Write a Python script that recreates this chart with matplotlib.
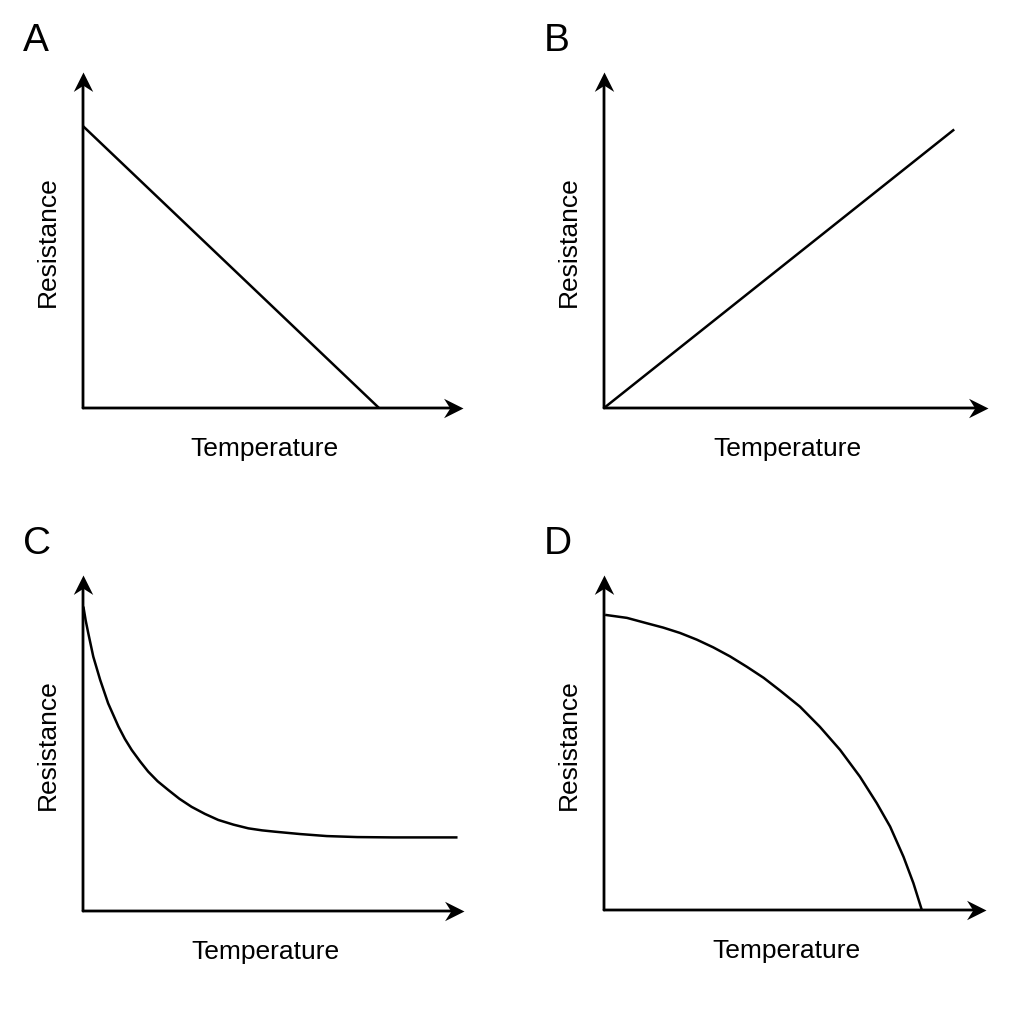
import matplotlib.pyplot as plt
from matplotlib.path import Path
import numpy as np

plt.rcParams['font.family'] = ['Liberation Sans', 'DejaVu Sans']

# values, axis units 0-10 from origin to arrow tip
a_x = [0, 7.79]
a_y = [8.39, 0]

b_x = [0, 9.12]
b_y = [0, 8.29]

c_x = [0.01, 0.07, 0.14, 0.27, 0.45, 0.66, 0.93, 1.10, 1.28, 1.50, 1.71, 1.96, 2.24, 2.53, 2.85, 3.20, 3.55, 3.95, 4.34, 4.70, 5.04, 5.70, 6.40, 7.20, 8.14, 9.83]
c_y = [9.06, 8.65, 8.26, 7.57, 6.88, 6.18, 5.49, 5.12, 4.79, 4.45, 4.15, 3.86, 3.60, 3.34, 3.10, 2.89, 2.71, 2.57, 2.46, 2.40, 2.36, 2.29, 2.23, 2.20, 2.19, 2.19]

d_x = [0.03, 0.60, 1.12, 1.55, 1.99, 2.43, 2.86, 3.30, 3.74, 4.18, 4.61, 5.13, 5.65, 6.18, 6.70, 7.14, 7.49, 7.84, 8.10, 8.32]
d_y = [8.81, 8.72, 8.56, 8.43, 8.27, 8.07, 7.84, 7.57, 7.26, 6.93, 6.55, 6.07, 5.47, 4.78, 3.98, 3.19, 2.49, 1.59, 0.80, 0.00]

panels = ['A', 'B', 'C', 'D']
xs = [a_x, b_x, c_x, d_x]
ys = [a_y, b_y, c_y, d_y]
xlabel = 'Temperature'
ylabel = 'Resistance'

W = 1024.0
# left, bottom, width, height in pixels (origin to arrow tips)
boxes = [(83, 616, 380, 336), (604, 616, 384, 336),
         (83, 113, 381, 336), (604, 114, 382, 335)]

# dart shaped arrow heads, tip at the marker origin
codes = [Path.MOVETO, Path.LINETO, Path.LINETO, Path.LINETO, Path.CLOSEPOLY]
head_r = Path([(0, 0), (-1, 0.5), (-0.68, 0), (-1, -0.5), (0, 0)], codes)
head_u = Path([(0, 0), (-0.5, -1), (0, -0.68), (0.5, -1), (0, 0)], codes)

fig = plt.figure(figsize=(10.24, 10.24), dpi=100)
fig.patch.set_facecolor('white')

for i in range(4):
    l, b, w, h = boxes[i]
    ax = fig.add_axes([l / W, b / W, w / W, h / W])
    ax.set_xlim(0, 10)
    ax.set_ylim(0, 10)
    ax.axis('off')
    arr = dict(arrowstyle='-', color='black', lw=2.0, shrinkA=0, shrinkB=8)
    ax.annotate('', xy=(10, 0), xytext=(0, 0), arrowprops=arr, annotation_clip=False)
    ax.annotate('', xy=(0, 10), xytext=(0, 0), arrowprops=arr, annotation_clip=False)
    ax.plot([10], [0], marker=head_r, ms=28, color='black', mew=0, clip_on=False)
    ax.plot([0], [10], marker=head_u, ms=28, color='black', mew=0, clip_on=False)
    ax.plot(xs[i], ys[i], color='black', lw=1.8, clip_on=False, solid_capstyle='butt',
            solid_joinstyle='round')
    ax.text(0.478, -48.0 / h, xlabel, transform=ax.transAxes, ha='center', va='baseline',
            fontsize=19)
    ax.text(-35.0 / w, 0.494, ylabel, transform=ax.transAxes, ha='center', va='center',
            rotation=90, fontsize=19)
    # panel letter
    ax.text(-60.0 / w, 1 + 21.0 / h, panels[i], transform=ax.transAxes, ha='left',
            va='baseline', fontsize=28)

fig.savefig('out.png', dpi=100, facecolor='white')
